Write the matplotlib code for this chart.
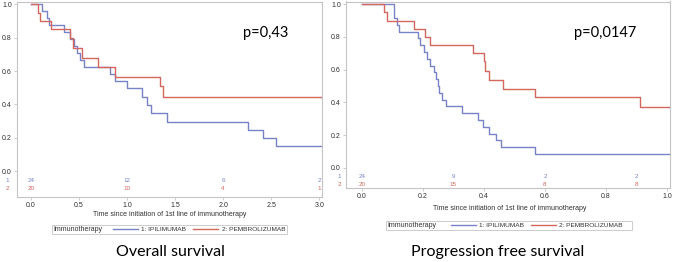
import matplotlib
matplotlib.use('Agg')
import matplotlib.pyplot as plt
from matplotlib.lines import Line2D
from matplotlib.patches import Rectangle

# Kaplan-Meier steps
os_ipi_t = [0, 0.111, 0.170, 0.191, 0.347, 0.406, 0.448, 0.483, 0.51, 0.552, 0.823, 0.875,
            0.997, 1.153, 1.205, 1.247, 1.413, 2.264, 2.413, 2.552, 3.1]
os_ipi_s = [1.0, 0.958, 0.917, 0.875, 0.833, 0.792, 0.75, 0.708, 0.667, 0.625, 0.583, 0.542,
            0.496, 0.446, 0.396, 0.346, 0.296, 0.246, 0.196, 0.15, 0.15]
os_pem_t = [0, 0.076, 0.094, 0.205, 0.406, 0.434, 0.528, 0.70, 0.875, 1.34, 1.37, 3.1]
os_pem_s = [1.0, 0.95, 0.90, 0.85, 0.80, 0.74, 0.68, 0.625, 0.566, 0.51, 0.442, 0.442]

pfs_ipi_t = [0, 0.105, 0.116, 0.122, 0.183, 0.191, 0.202, 0.215, 0.224, 0.235, 0.242, 0.248,
             0.253, 0.261, 0.275, 0.329, 0.381, 0.398, 0.416, 0.438, 0.455, 0.569, 1.05]
pfs_ipi_s = [1.0, 0.917, 0.875, 0.833, 0.792, 0.75, 0.708, 0.667, 0.625, 0.583, 0.542, 0.5,
             0.458, 0.417, 0.375, 0.333, 0.29, 0.247, 0.206, 0.17, 0.128, 0.084, 0.084]
pfs_pem_t = [0, 0.073, 0.082, 0.172, 0.206, 0.224, 0.365, 0.40, 0.405, 0.416, 0.462, 0.568, 0.913, 1.05]
pfs_pem_s = [1.0, 0.95, 0.90, 0.85, 0.80, 0.75, 0.70, 0.65, 0.592, 0.537, 0.483, 0.431, 0.373, 0.373]

# numbers at risk
os_risk_t = [0, 1, 2, 3]
os_risk_ipi = [24, 12, 6, 2]
os_risk_pem = [20, 10, 4, 1]
pfs_risk_t = [0, 0.3, 0.6, 0.9]
pfs_risk_ipi = [24, 9, 2, 2]
pfs_risk_pem = [20, 15, 8, 8]

os_xticks = [0, 0.5, 1.0, 1.5, 2.0, 2.5, 3.0]
pfs_xticks = [0, 0.2, 0.4, 0.6, 0.8, 1.0]
yticks = [0, 0.2, 0.4, 0.6, 0.8, 1.0]

groups = ['1: IPILIMUMAB', '2: PEMBROLIZUMAB']
blue = '#7783c6'
red = '#d4665e'
grey = '#c4c4c4'
txt = '#303030'
W, H = 674, 262

plt.rcParams['font.family'] = ['Liberation Sans', 'DejaVu Sans']

fig = plt.figure(figsize=(W / 100, H / 100), dpi=100)


def px_axes(x0, y0, x1, y1):
    return fig.add_axes([x0 / W, 1 - y1 / H, (x1 - x0) / W, (y1 - y0) / H])


def km_panel(ax, ipi_t, ipi_s, pem_t, pem_s, xlim, ylim, xticks,
             risk_t, risk_ipi, risk_pem, risk_y, lab_x):
    ax.step(ipi_t, ipi_s, where='post', color=blue, lw=1.0)
    ax.step(pem_t, pem_s, where='post', color=red, lw=1.0)
    ax.set_xlim(*xlim)
    ax.set_ylim(*ylim)
    ax.set_xticks(xticks)
    ax.set_xticklabels(['%.1f' % v for v in xticks])
    ax.set_yticks(yticks)
    ax.set_yticklabels(['%.1f' % v for v in yticks])
    ax.tick_params(labelsize=5, colors=txt, length=2.5, width=0.6, pad=1.2, color=grey)
    for s in ax.spines.values():
        s.set_color(grey)
        s.set_linewidth(0.8)
    for t, a, b in zip(risk_t, risk_ipi, risk_pem):
        ax.text(t, risk_y[0], str(a), color=blue, fontsize=4.5, ha='center', va='center')
        ax.text(t, risk_y[1], str(b), color=red, fontsize=4.5, ha='center', va='center')
    ax.text(lab_x, risk_y[0], '1', color=blue, fontsize=4.5, ha='center', va='center', clip_on=False)
    ax.text(lab_x, risk_y[1], '2', color=red, fontsize=4.5, ha='center', va='center', clip_on=False)


ax1 = px_axes(17, 1.5, 322, 196.5)
km_panel(ax1, os_ipi_t, os_ipi_s, os_pem_t, os_pem_s, (-0.146, 3.03), (-0.153, 1.017),
         os_xticks, os_risk_t, os_risk_ipi, os_risk_pem, (-0.054, -0.106), -0.247)

ax2 = px_axes(346, 1.5, 670, 188.3)
km_panel(ax2, pfs_ipi_t, pfs_ipi_s, pfs_pem_t, pfs_pem_s, (-0.052, 1.0098), (-0.126, 1.017),
         pfs_xticks, pfs_risk_t, pfs_risk_ipi, pfs_risk_pem, (-0.051, -0.102), -0.075)


def legend_row(box_x0, box_x1, yc, line_x):
    fig.add_artist(Rectangle((box_x0 / W, 1 - (yc + 4.5) / H), (box_x1 - box_x0) / W, 9 / H,
                             transform=fig.transFigure, facecolor='none', edgecolor=grey, lw=0.6))
    fig.text((box_x0 + 1.5) / W, 1 - (yc + 1.8) / H, 'Immunotherapy', fontsize=5, color=txt,
             ha='left', va='baseline')
    handles = [Line2D([], [], color=blue, lw=1.0), Line2D([], [], color=red, lw=1.0)]
    fig.legend(handles, groups, loc='center left', bbox_to_anchor=(line_x / W, 1 - yc / H),
               ncol=2, frameon=False, fontsize=4.65, handlelength=3.85, handletextpad=0.55,
               columnspacing=1.05, borderpad=0, borderaxespad=0, labelcolor=txt)


legend_row(51.7, 287, 229.5, 113)
legend_row(385.7, 632, 225, 450.7)

xl = 'Time since initiation of 1st line of immunotherapy'
fig.text(170 / W, 1 - 214 / H, xl, fontsize=5, color=txt, ha='center', va='center')
fig.text(510 / W, 1 - 209 / H, xl, fontsize=5, color=txt, ha='center', va='center')

fig.text(265.5 / W, 1 - 33 / H, 'p=0,43', fontsize=10.5, family='Lato', ha='center', va='center')
fig.text(605.5 / W, 1 - 33 / H, 'p=0,0147', fontsize=10.5, family='Lato', ha='center', va='center')

fig.text(170 / W, 1 - 251.7 / H, 'Overall survival', fontsize=11.5, family='Lato',
         ha='center', va='center')
fig.text(498 / W, 1 - 251.7 / H, 'Progression free survival', fontsize=11.5, family='Lato',
         ha='center', va='center')

fig.savefig('out.png', dpi=100)
